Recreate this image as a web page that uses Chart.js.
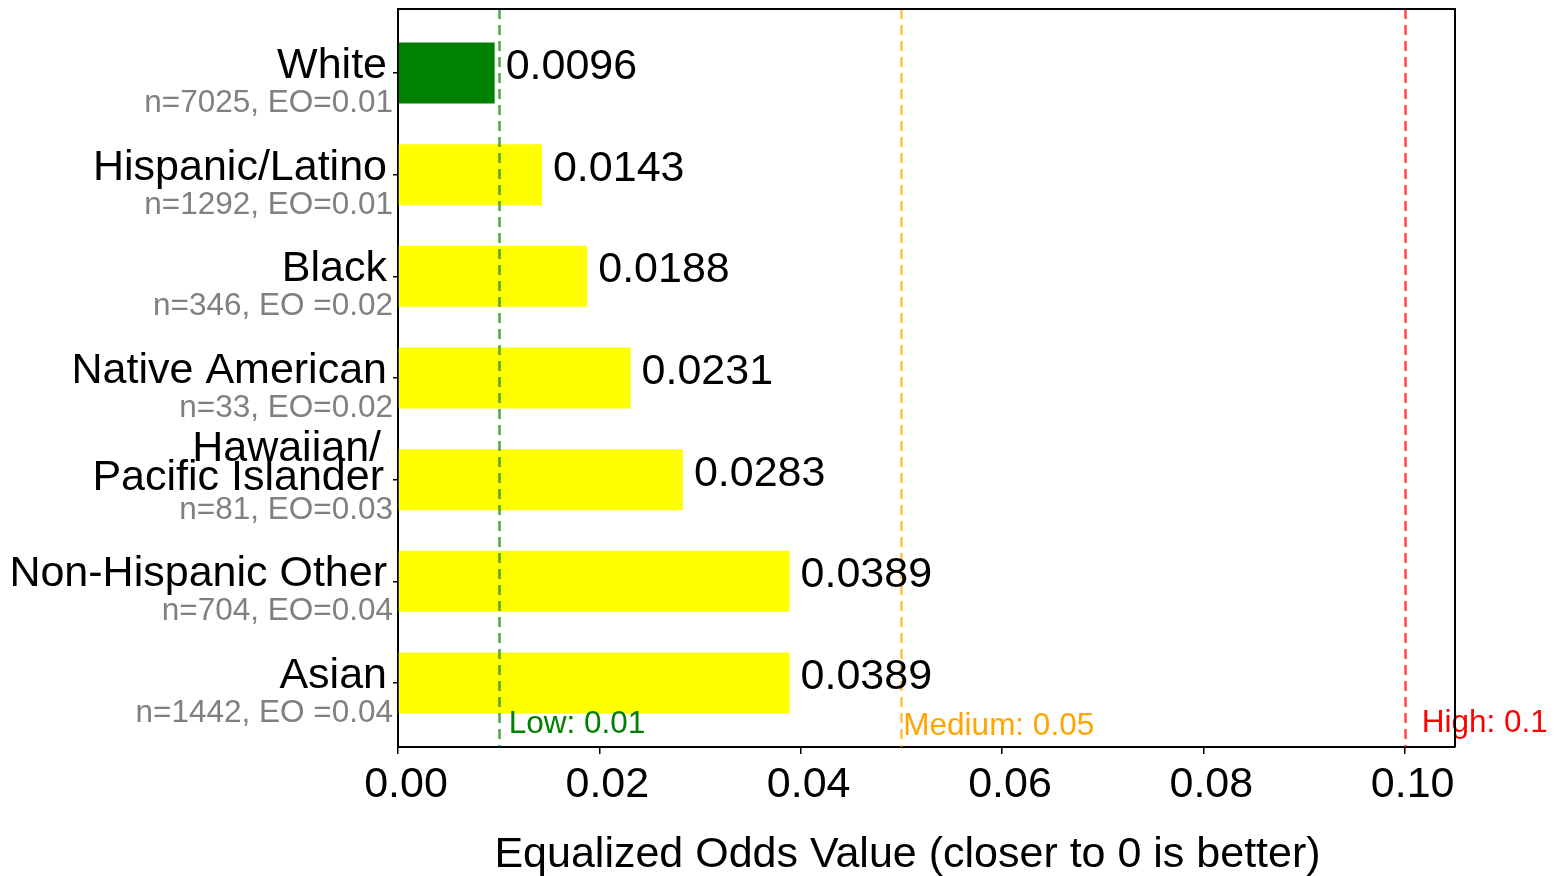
<!DOCTYPE html>
<html>
<head>
<meta charset="utf-8">
<script src="https://cdn.jsdelivr.net/npm/chart.js@4.4.1/dist/chart.umd.min.js"></script>
<style>
  html, body { margin: 0; padding: 0; background: #ffffff; }
  canvas { display: block; }
</style>
</head>
<body>
<canvas id="c" width="1561" height="876"></canvas>
<script>
// ---- data ----
const categories = ['White', 'Hispanic/Latino', 'Black', 'Native American', 'Hawaiian/\nPacific Islander', 'Non-Hispanic Other', 'Asian'];
const subLabels = ['n=7025, EO=0.01', 'n=1292, EO=0.01', 'n=346, EO =0.02', 'n=33, EO=0.02', 'n=81, EO=0.03', 'n=704, EO=0.04', 'n=1442, EO =0.04'];
const eoValues = [0.0096, 0.0143, 0.0188, 0.0231, 0.0283, 0.0389, 0.0389];
const xTickValues = [0.00, 0.02, 0.04, 0.06, 0.08, 0.10];
const thresholdValues = [0.01, 0.05, 0.1];
const thresholdLabels = ['Low: 0.01', 'Medium: 0.05', 'High: 0.1'];
const xTitle = 'Equalized Odds Value (closer to 0 is better)';

// ---- styles ----
const FONT = "'Liberation Sans', Arial, Helvetica, sans-serif";
const BIG = 43, SMALL = 31.5;
const thresholdLineColors = ['rgba(0,128,0,0.7)', 'rgba(255,165,0,0.7)', 'rgba(255,0,0,0.7)'];
const thresholdTextColors = ['#008000', '#FFA500', '#FF0000'];
const thresholdTextDx = [10, 2, 17];
const thresholdTextBaseline = [733, 735, 732];

function barColor(v) { return v < thresholdValues[0] ? '#008000' : (v < thresholdValues[1] ? '#FFFF00' : '#FF0000'); }

const overlay = {
  id: 'overlay',
  afterDatasetsDraw(chart) {
    const ctx = chart.ctx, xs = chart.scales.x, ys = chart.scales.y, a = chart.chartArea;
    ctx.save();
    // threshold lines
    thresholdValues.forEach((t, i) => {
      const px = Math.round(xs.getPixelForValue(t)) + 0.5;
      ctx.beginPath();
      ctx.setLineDash([10, 6]);
      ctx.lineWidth = 2.5;
      ctx.strokeStyle = thresholdLineColors[i];
      ctx.moveTo(px, a.top);
      ctx.lineTo(px, a.bottom);
      ctx.stroke();
    });
    ctx.setLineDash([]);
    // value labels
    ctx.font = BIG + 'px ' + FONT;
    ctx.fillStyle = '#000';
    ctx.textAlign = 'left';
    ctx.textBaseline = 'alphabetic';
    eoValues.forEach((v, i) => {
      ctx.fillText(v.toFixed(4), xs.getPixelForValue(v) + 11, ys.getPixelForValue(i) + 6);
    });
    // threshold labels
    ctx.font = SMALL + 'px ' + FONT;
    thresholdValues.forEach((t, i) => {
      ctx.fillStyle = thresholdTextColors[i];
      ctx.fillText(thresholdLabels[i], xs.getPixelForValue(t) + thresholdTextDx[i], thresholdTextBaseline[i]);
    });
    ctx.restore();
  },
  afterDraw(chart) {
    const ctx = chart.ctx, ys = chart.scales.y, a = chart.chartArea;
    ctx.save();
    // top/right frame
    ctx.strokeStyle = '#000';
    ctx.lineWidth = 2;
    ctx.beginPath();
    ctx.moveTo(a.left, a.top);
    ctx.lineTo(a.right, a.top);
    ctx.lineTo(a.right, a.bottom);
    ctx.stroke();
    // category labels
    ctx.textAlign = 'right';
    ctx.textBaseline = 'alphabetic';
    categories.forEach((c, i) => {
      const cy = ys.getPixelForValue(i);
      const lines = c.split('\n');
      const n = lines.length;
      const last = cy + 5 + (n - 1) * 5;
      ctx.font = BIG + 'px ' + FONT;
      ctx.fillStyle = '#000';
      lines.forEach((ln, j) => {
        ctx.fillText(ln, a.left - 11 - (n - 1 - j) * 3 - (n - 1) * 3, last - (n - 1 - j) * 29);
      });
      ctx.font = SMALL + 'px ' + FONT;
      ctx.fillStyle = '#808080';
      ctx.fillText(subLabels[i], a.left - 5, cy + 39);
    });
    // x axis title
    ctx.font = BIG + 'px ' + FONT;
    ctx.fillStyle = '#000';
    ctx.textAlign = 'center';
    ctx.fillText(xTitle, (a.left + a.right) / 2 - 19, 867);
    ctx.restore();
  }
};

new Chart(document.getElementById('c'), {
  type: 'bar',
  data: {
    datasets: [{
      data: eoValues.map((v, i) => ({ x: v, y: i })),
      backgroundColor: eoValues.map(barColor),
      borderWidth: 0,
      barPercentage: 0.6,
      categoryPercentage: 1.0
    }]
  },
  options: {
    indexAxis: 'y',
    responsive: false,
    devicePixelRatio: 1,
    animation: false,
    events: [],
    layout: { padding: { top: 9, right: 106, left: 0, bottom: 0 } },
    plugins: { legend: { display: false }, tooltip: { enabled: false } },
    scales: {
      x: {
        type: 'linear',
        position: 'bottom',
        min: 0,
        max: 0.105,
        offset: false,
        afterBuildTicks(scale) { scale.ticks = xTickValues.map(v => ({ value: v })); },
        afterFit(scale) { scale.height = 129; },
        grid: { display: true, offset: false, drawOnChartArea: false, drawTicks: true, tickLength: 7, color: '#000', lineWidth: 1.5 },
        border: { display: true, color: '#000', width: 2 },
        ticks: {
          autoSkip: false,
          maxRotation: 0,
          padding: 5,
          labelOffset: 8,
          color: '#000',
          font: { family: FONT, size: BIG },
          callback: v => Number(v).toFixed(2)
        },
        title: { display: false }
      },
      y: {
        type: 'linear',
        position: 'left',
        reverse: true,
        offset: false,
        min: -0.63,
        max: 6.63,
        afterBuildTicks(scale) { scale.ticks = categories.map((c, i) => ({ value: i })); },
        afterFit(scale) { scale.width = 398; },
        grid: { display: true, offset: false, drawOnChartArea: false, drawTicks: true, tickLength: 5, color: '#000', lineWidth: 1.5 },
        border: { display: true, color: '#000', width: 2 },
        ticks: { display: false }
      }
    }
  },
  plugins: [overlay]
});
</script>
</body>
</html>
